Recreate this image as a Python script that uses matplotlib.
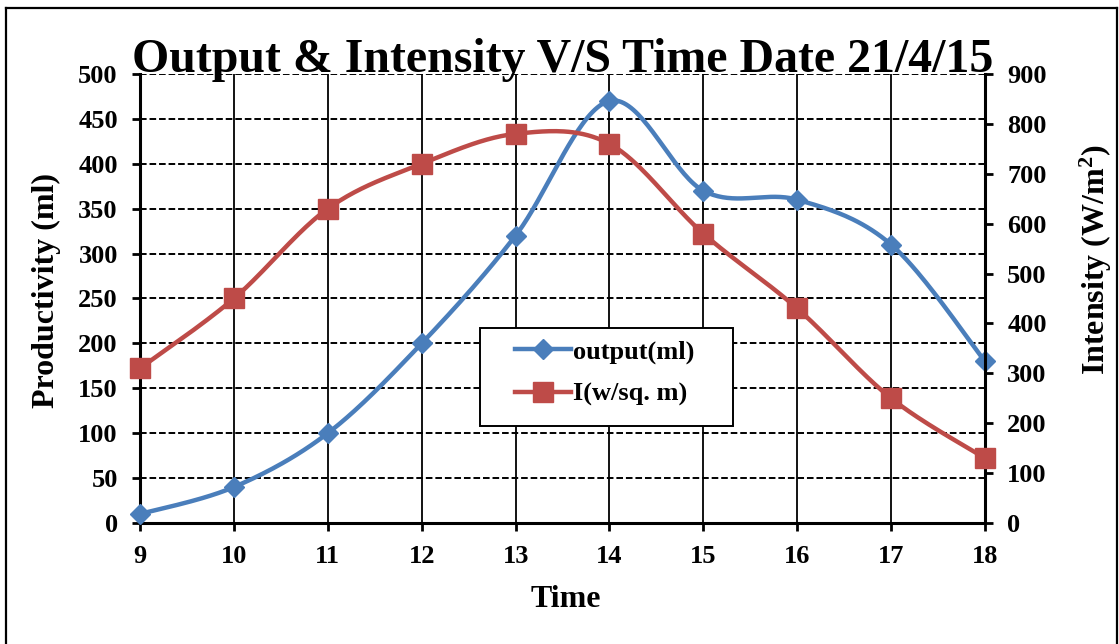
import numpy as np
import matplotlib.pyplot as plt
from matplotlib.lines import Line2D
from matplotlib.patches import Rectangle
from matplotlib.legend_handler import HandlerLine2D

plt.rcParams['font.family'] = ['Liberation Serif', 'DejaVu Serif']
plt.rcParams['font.weight'] = 'bold'
plt.rcParams['mathtext.fontset'] = 'custom'
plt.rcParams['mathtext.rm'] = 'Liberation Serif:bold'
plt.rcParams['mathtext.it'] = 'Liberation Serif:bold'
plt.rcParams['mathtext.bf'] = 'Liberation Serif:bold'

hours = [9, 10, 11, 12, 13, 14, 15, 16, 17, 18]
output_ml = [10, 40, 100, 200, 320, 470, 370, 360, 310, 180]
intensity = [310, 450, 630, 720, 780, 760, 580, 430, 250, 130]

blue = '#4a7ebb'
red = '#be4b48'


def smooth(x, y, n=40):
    # excel-like smoothed line: bezier segments with catmull-rom control points
    x = np.asarray(x, float)
    y = np.asarray(y, float)
    px = np.concatenate([[x[0]], x, [x[-1]]])
    py = np.concatenate([[y[0]], y, [y[-1]]])
    t = np.linspace(0, 1, n)[:, None]
    xs, ys = [], []
    for i in range(1, len(x)):
        p0 = np.array([px[i], py[i]])
        p3 = np.array([px[i + 1], py[i + 1]])
        c1 = p0 + (np.array([px[i + 1], py[i + 1]]) - np.array([px[i - 1], py[i - 1]])) / 6
        c2 = p3 - (np.array([px[i + 2], py[i + 2]]) - np.array([px[i], py[i]])) / 6
        b = (1 - t) ** 3 * p0 + 3 * (1 - t) ** 2 * t * c1 + 3 * (1 - t) * t ** 2 * c2 + t ** 3 * p3
        xs.append(b[:, 0])
        ys.append(b[:, 1])
    return np.concatenate(xs), np.concatenate(ys)


fig = plt.figure(figsize=(11.19, 6.44), dpi=100)
ax = fig.add_axes([0.1251, 0.1879, 0.7552, 0.6972])
ax2 = ax.twinx()

# outer chart border
for xy in [([0.0057, 0.0057], [0, 0.9876]), ([0.0057, 0.998], [0.9876, 0.9876]), ([0.998, 0.998], [0, 0.9876])]:
    fig.add_artist(Line2D(xy[0], xy[1], color='black', lw=1.6, transform=fig.transFigure))

ax.set_xlim(9, 18)
ax.set_ylim(0, 500)
ax2.set_ylim(0, 900)
ax.set_xticks(hours)
ax.set_yticks(np.arange(0, 501, 50))
ax2.set_yticks(np.arange(0, 901, 100))

ax.grid(axis='x', color='black', lw=1.3, linestyle='-')
ax.grid(axis='y', color='black', lw=1.4, linestyle=(0, (3.4, 1.5)))
ax.set_axisbelow(True)

for a in (ax, ax2):
    for s in a.spines.values():
        s.set_linewidth(2.2)
    a.spines['top'].set_visible(False)
ax.spines['right'].set_visible(False)
ax2.spines['left'].set_visible(False)
ax2.spines['bottom'].set_visible(False)

ax.tick_params(axis='x', direction='out', length=6, width=2, labelsize=19, pad=9.5)
ax.tick_params(axis='y', direction='out', length=6, width=2, labelsize=19, pad=10)
ax2.tick_params(axis='y', direction='out', length=6, width=2, labelsize=19, pad=10)

sx, sy = smooth(hours, output_ml)
ax.plot(sx, sy, color=blue, lw=3.2, clip_on=False, zorder=3)
ax.plot(hours, output_ml, linestyle='none', marker='D', ms=10.5, color=blue, mec=blue, clip_on=False, zorder=4)

rx, ry = smooth(hours, intensity)
ax2.plot(rx, ry, color=red, lw=3.2, clip_on=False, zorder=3)
ax2.plot(hours, intensity, linestyle='none', marker='s', ms=14, color=red, mec=red, clip_on=False, zorder=4)

fig.text(0.5026, 1 - 72 / 644, 'Output & Intensity V/S Time Date 21/4/15',
         ha='center', va='baseline', fontsize=34.5, fontweight='bold')

ax.set_xlabel('Time', fontsize=23, fontweight='bold')
ax.xaxis.set_label_coords((566 - 140) / 845, (523 - 607) / 449)
ax.xaxis.label.set_va('baseline')

ax.set_ylabel('Productivity (ml)', fontsize=23, fontweight='bold')
ax.yaxis.set_label_coords((46 - 140) / 845, (523 - 291) / 449)
ax.yaxis.label.set_va('center')

ax2.set_ylabel(r'Intensity (W/m$^{2}$)', fontsize=23, fontweight='bold', rotation=90)
ax2.yaxis.set_label_coords((1096 - 140) / 845, (523 - 260) / 449)
ax2.yaxis.label.set_va('center')

# legend box
ax2.add_patch(Rectangle((0.402, 0.216), 0.3, 0.218, transform=ax2.transAxes,
                        facecolor='white', edgecolor='black', lw=1.4, zorder=6, clip_on=False))
h1 = Line2D([], [], color=blue, lw=3.2, marker='D', ms=10.5, mec=blue)
h2 = Line2D([], [], color=red, lw=3.2, marker='s', ms=14, mec=red)
ax2.legend([h1, h2], ['output(ml)', 'I(w/sq. m)'], loc='upper left',
           bbox_to_anchor=(0.402, 0.434), borderaxespad=0, borderpad=0.45,
           frameon=False, fontsize=19, handlelength=3.0, handletextpad=0.1,
           labelspacing=0.7, numpoints=1,
           handler_map={h1: HandlerLine2D(xpad=0.87), h2: HandlerLine2D(xpad=0.87)}).set_zorder(7)

fig.savefig('out.png', dpi=100)
